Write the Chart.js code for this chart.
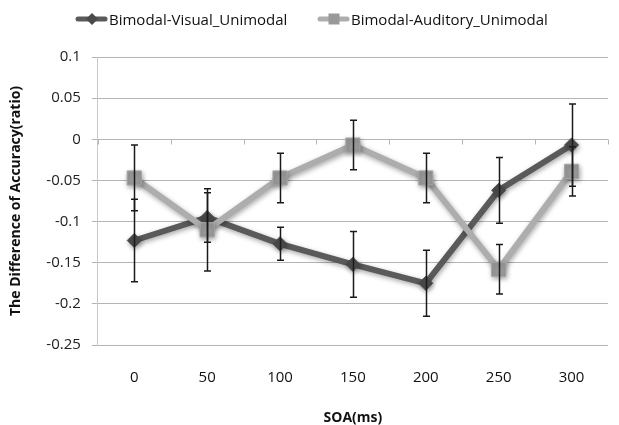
<!DOCTYPE html>
<html>
<head>
<meta charset="utf-8">
<script src="https://cdn.jsdelivr.net/npm/chart.js@4.4.1/dist/chart.umd.min.js"></script>
<style>
  html, body { margin: 0; padding: 0; background: #fff; }
  #wrap { position: relative; width: 619px; height: 425px; }
  #legend { position: absolute; top: 9px; left: 0; font: 15px 'Open Sans', sans-serif; color: #111; }
  .item { position: absolute; display: flex; align-items: center; white-space: nowrap; height: 20px; }
  .item canvas { margin-right: 1px; }
</style>
</head>
<body>
<div id="wrap">
  <canvas id="chart" width="619" height="425"></canvas>
  <div id="legend"></div>
</div>
<script>
// ---- data ----
const soa = ['0', '50', '100', '150', '200', '250', '300'];
const visual = [-0.123, -0.095, -0.127, -0.152, -0.175, -0.062, -0.007];
const visualErr = [0.05, 0.03, 0.02, 0.04, 0.04, 0.04, 0.05];
const auditory = [-0.047, -0.11, -0.047, -0.007, -0.047, -0.158, -0.039];
const auditoryErr = [0.04, 0.05, 0.03, 0.03, 0.03, 0.03, 0.03];
const yTicks = [0.1, 0.05, 0, -0.05, -0.1, -0.15, -0.2, -0.25];

const DARK = '#5a5a5a', DARK_PT = '#4a4a4a';
const LIGHT = '#adadad', LIGHT_PT = '#999999';
const GRID = '#b4b4b4';

// soft shadow under lines/markers, like the office chart
const shadowPlugin = {
  id: 'shadow',
  beforeDatasetDraw(chart) {
    const c = chart.ctx; c.save();
    c.shadowColor = 'rgba(0,0,0,0.35)'; c.shadowBlur = 5; c.shadowOffsetX = 1; c.shadowOffsetY = 2;
  },
  afterDatasetDraw(chart) { chart.ctx.restore(); }
};

// small tick marks hanging below the zero line at category boundaries
const zeroTicks = {
  id: 'zeroTicks',
  beforeDatasetsDraw(chart) {
    const { ctx, chartArea, scales: { x, y } } = chart;
    const y0 = Math.round(y.getPixelForValue(0)) + 0.5;
    ctx.save(); ctx.strokeStyle = GRID; ctx.lineWidth = 1; ctx.beginPath();
    for (let i = 0; i <= soa.length; i++) {
      let px;
      if (i === 0) px = chartArea.left;
      else if (i === soa.length) px = chartArea.right;
      else px = (x.getPixelForValue(i - 1) + x.getPixelForValue(i)) / 2;
      px = Math.round(px) + 0.5;
      ctx.moveTo(px, y0); ctx.lineTo(px, y0 + 5);
    }
    ctx.stroke(); ctx.restore();
  }
};

// vertical error bars with caps
const errorBars = {
  id: 'errorBars',
  afterDatasetsDraw(chart) {
    const { ctx, scales: { y } } = chart;
    ctx.save(); ctx.strokeStyle = '#1a1a1a'; ctx.lineWidth = 1.5;
    chart.data.datasets.forEach((ds, di) => {
      const meta = chart.getDatasetMeta(di);
      ds.data.forEach((v, i) => {
        const e = ds.errors[i], px = Math.round(meta.data[i].x) + 0.5;
        const t = y.getPixelForValue(v + e), b = y.getPixelForValue(v - e);
        ctx.beginPath();
        ctx.moveTo(px, t); ctx.lineTo(px, b);
        ctx.moveTo(px - 3.5, t); ctx.lineTo(px + 3.5, t);
        ctx.moveTo(px - 3.5, b); ctx.lineTo(px + 3.5, b);
        ctx.stroke();
      });
    });
    ctx.restore();
  }
};

new Chart(document.getElementById('chart'), {
  type: 'line',
  data: {
    labels: soa,
    datasets: [
      { label: 'Bimodal-Visual_Unimodal', data: visual, errors: visualErr, order: 1,
        borderColor: DARK, borderWidth: 6, pointStyle: 'rectRot', pointRadius: 7,
        pointBackgroundColor: DARK_PT, pointBorderColor: DARK_PT, pointBorderWidth: 1, tension: 0 },
      { label: 'Bimodal-Auditory_Unimodal', data: auditory, errors: auditoryErr, order: 0,
        borderColor: LIGHT, borderWidth: 6, pointStyle: 'rect', pointRadius: 10,
        pointBackgroundColor: LIGHT_PT, pointBorderColor: '#a6a6a6', pointBorderWidth: 1, tension: 0 }
    ]
  },
  options: {
    responsive: false, animation: false,
    layout: { padding: { top: 57, left: 8, right: 5, bottom: 0 } },
    plugins: { legend: { display: false }, tooltip: { enabled: false } },
    scales: {
      x: {
        offset: true,
        grid: { display: false, drawTicks: false },
        border: { display: false },
        ticks: { padding: 25, color: '#111', font: { family: 'Open Sans', size: 15, lineHeight: 1 } },
        title: { display: true, text: 'SOA(ms)', color: '#111', padding: { top: 1, bottom: 0 },
          font: { family: 'Open Sans', size: 14, weight: 'bold', lineHeight: 1 } }
      },
      y: {
        min: -0.25, max: 0.1,
        afterBuildTicks: s => { s.ticks = yTicks.map(v => ({ value: v })); },
        grid: { color: GRID, tickLength: 6 },
        border: { color: '#c8c8c8' },
        ticks: { padding: 11, color: '#222', font: { family: 'Open Sans', size: 15, lineHeight: 1 },
          callback: v => String(Number(v.toFixed(2))) },
        title: { display: true, text: 'The Difference of Accuracy(ratio)', color: '#111',
          padding: { top: 0, bottom: 10.5 }, font: { family: 'Open Sans', size: 14, weight: 'bold', lineHeight: 1.2 } }
      }
    }
  },
  plugins: [shadowPlugin, zeroTicks, errorBars]
});

// legend: line + marker icon followed by the label text
function legendIcon(color, ptColor, style) {
  const c = document.createElement('canvas');
  c.width = 33; c.height = 16;
  const g = c.getContext('2d');
  g.strokeStyle = color; g.lineWidth = 5; g.lineCap = 'round';
  g.beginPath(); g.moveTo(3, 8); g.lineTo(30, 8); g.stroke();
  g.fillStyle = ptColor;
  if (style === 'diamond') {
    g.beginPath(); g.moveTo(17, 2); g.lineTo(23, 8); g.lineTo(17, 14); g.lineTo(11, 8); g.closePath(); g.fill();
  } else {
    g.fillRect(11.5, 2.5, 11, 11);
  }
  return c;
}
const legendItems = [
  { text: 'Bimodal-Visual_Unimodal', color: DARK, pt: DARK_PT, style: 'diamond', left: 75 },
  { text: 'Bimodal-Auditory_Unimodal', color: LIGHT, pt: LIGHT_PT, style: 'square', left: 317 }
];
const leg = document.getElementById('legend');
legendItems.forEach(it => {
  const d = document.createElement('div');
  d.className = 'item'; d.style.left = it.left + 'px';
  d.appendChild(legendIcon(it.color, it.pt, it.style));
  const s = document.createElement('span'); s.textContent = it.text;
  d.appendChild(s); leg.appendChild(d);
});
</script>
</body>
</html>
